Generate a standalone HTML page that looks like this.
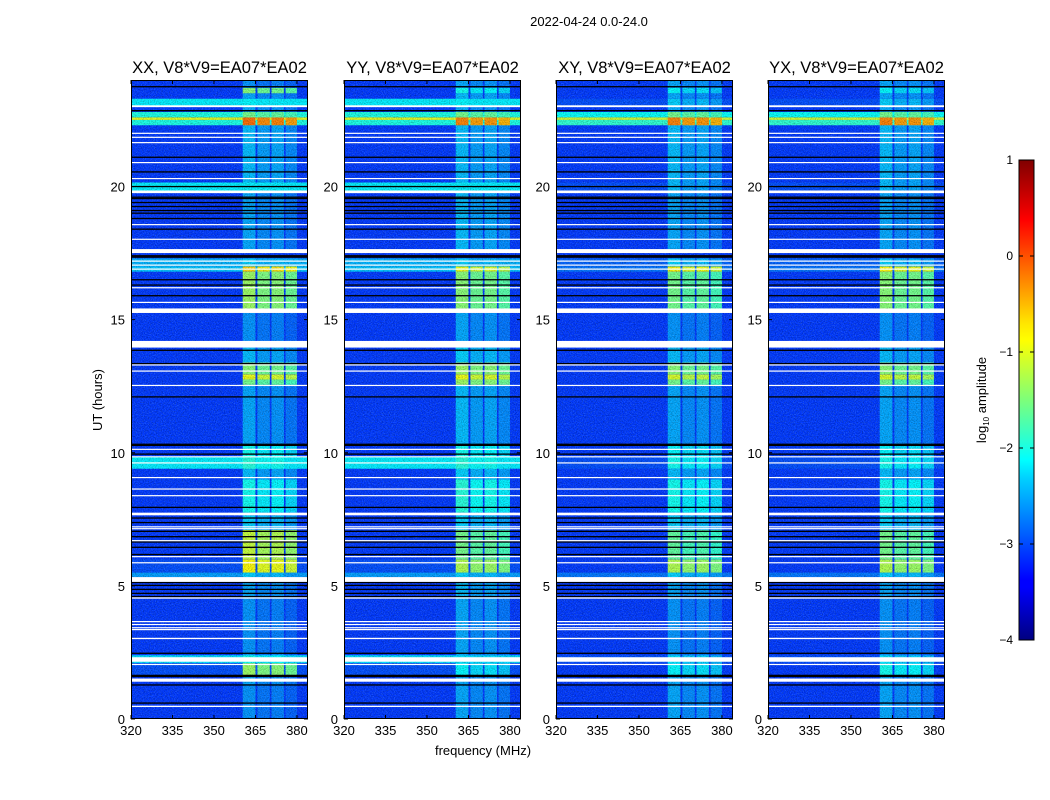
<!DOCTYPE html>
<html><head><meta charset="utf-8"><style>
body{margin:0;background:#fff;}
svg{display:block;font-family:"Liberation Sans","DejaVu Sans",sans-serif;}
</style></head><body>
<svg id="fig" width="1050" height="800" viewBox="0 0 1050 800" xmlns="http://www.w3.org/2000/svg">
<defs>
<filter id="noise" x="0" y="0" width="100%" height="100%">
<feTurbulence type="fractalNoise" baseFrequency="0.85" numOctaves="1" seed="7"/>
<feColorMatrix type="matrix" values="0 0 0 0 0  0 0 0 0 0  0 0 0 0 0  2.2 0 0 0 -0.9"/>
</filter>
<filter id="noise2" x="0" y="0" width="100%" height="100%">
<feTurbulence type="fractalNoise" baseFrequency="0.9" numOctaves="1" seed="21"/>
<feColorMatrix type="matrix" values="0 0 0 0 0.3  0 0 0 0 0.7  0 0 0 0 1  2.4 0 0 0 -1.1"/>
</filter>
<linearGradient id="jet" x1="0" y1="1" x2="0" y2="0">
<stop offset="0" stop-color="#000080"/><stop offset="0.11" stop-color="#0000ff"/>
<stop offset="0.125" stop-color="#0000ff"/><stop offset="0.34" stop-color="#00d4ff"/>
<stop offset="0.375" stop-color="#00ffff"/><stop offset="0.5" stop-color="#7dff7a"/>
<stop offset="0.625" stop-color="#ffff00"/><stop offset="0.66" stop-color="#ffe600"/>
<stop offset="0.875" stop-color="#ff0000"/><stop offset="1" stop-color="#800000"/>
</linearGradient>
</defs>
<text x="589" y="26" font-size="13" text-anchor="middle">2022-04-24 0.0-24.0</text>
<text x="102" y="400" font-size="13" text-anchor="middle" transform="rotate(-90 102 400)">UT (hours)</text>
<text x="483" y="755" font-size="13" text-anchor="middle">frequency (MHz)</text>
<g id="panels"></g>
<g>
<rect x="1019" y="160" width="15" height="480" fill="url(#jet)" stroke="#000" stroke-width="1"/>
<g id="cbticks"></g>
<text x="986" y="400" font-size="13" text-anchor="middle" transform="rotate(-90 986 400)">log<tspan font-size="8" dy="3">10</tspan><tspan dy="-3"> amplitude</tspan></text>
</g>
</svg>
<script>
// ---- data ----
const panelTitles = ["XX, V8*V9=EA07*EA02","YY, V8*V9=EA07*EA02","XY, V8*V9=EA07*EA02","YX, V8*V9=EA07*EA02"];
const xTicks = [320,335,350,365,380];
const yTicks = [0,5,10,15,20];
const cbTicks = [1,0,-1,-2,-3,-4];
const segStart = [0,1.3,1.65,2.1,2.4,4.55,5.33,5.5,6.0,7.1,7.75,9.0,9.4,9.85,10.3,12.55,12.75,12.95,13.4,14.2,15.4,16.8,17.0,17.65,19.85,20.15,22.3,22.5,22.6,22.8,23.0,23.3,23.5,23.7];
const segEnd   = [1.3,1.65,2.1,2.4,4.55,5.15,5.5,6.0,7.1,7.65,9.0,9.4,9.85,10.3,12.55,12.75,12.95,13.4,13.95,15.25,16.8,17.0,17.3,19.85,20.15,22.3,22.5,22.6,22.8,23.0,23.3,23.5,23.7,24];
const bgXX  = [-3.1,-3.1,-3.0,-2.3,-3.1,-3.1,-2.6,-3.0,-3.1,-3.1,-3.1,-3.1,-2.2,-3.1,-3.1,-3.1,-3.1,-3.1,-3.1,-3.1,-3.1,-2.4,-2.5,-3.1,-2.2,-3.1,-2.0,-1.0,-2.0,-3.1,-2.2,-3.1,-3.1,-3.1];
const rfiXX = [-2.8,-2.7,-1.5,-2.2,-2.8,-2.7,-2.5,-1.0,-1.3,-2.5,-2.2,-2.6,-2.1,-2.2,-2.7,-1.7,-1.1,-1.6,-2.6,-2.8,-1.5,-0.8,-2.5,-2.7,-2.5,-2.6,-0.3,-0.3,-1.7,-2.7,-2.3,-2.7,-1.6,-2.8];
const bgYY  = [-3.1,-3.1,-3.0,-2.3,-3.1,-3.1,-2.6,-3.0,-3.1,-3.1,-3.1,-3.1,-2.2,-3.1,-3.1,-3.1,-3.1,-3.1,-3.1,-3.1,-3.1,-2.4,-2.5,-3.1,-2.2,-3.1,-2.0,-1.0,-2.0,-3.1,-2.2,-3.1,-3.1,-3.1];
const rfiYY = [-2.7,-2.7,-2.3,-2.4,-2.7,-2.6,-2.5,-1.4,-1.7,-2.5,-2.1,-2.5,-2.1,-2.2,-2.6,-1.5,-1.1,-1.5,-2.5,-2.7,-1.6,-1.1,-2.5,-2.6,-2.5,-2.6,-0.4,-0.4,-1.7,-2.7,-2.3,-2.6,-2.2,-2.7];
const bgXY  = [-3.1,-3.1,-3.1,-3.0,-3.1,-3.1,-2.8,-3.1,-3.1,-3.1,-3.1,-3.1,-3.0,-3.1,-3.1,-3.1,-3.1,-3.1,-3.1,-3.1,-3.1,-2.8,-2.9,-3.1,-3.0,-3.1,-1.9,-1.1,-2.1,-3.1,-3.0,-3.1,-3.1,-3.1];
const rfiXY = [-2.7,-2.7,-2.3,-2.4,-2.8,-2.7,-2.5,-1.4,-1.8,-2.5,-2.2,-2.6,-2.2,-2.3,-2.7,-1.7,-1.2,-1.6,-2.6,-2.8,-1.7,-1.0,-2.5,-2.7,-2.6,-2.6,-0.4,-0.4,-1.7,-2.7,-2.5,-2.7,-2.3,-2.7];
const bgYX  = [-3.1,-3.1,-3.1,-3.0,-3.1,-3.1,-2.8,-3.1,-3.1,-3.1,-3.1,-3.1,-3.0,-3.1,-3.1,-3.1,-3.1,-3.1,-3.1,-3.1,-3.1,-2.8,-2.9,-3.1,-3.0,-3.1,-1.9,-1.1,-2.1,-3.1,-3.0,-3.1,-3.1,-3.1];
const rfiYX = [-2.7,-2.7,-2.2,-2.4,-2.8,-2.7,-2.5,-1.4,-1.7,-2.5,-2.2,-2.6,-2.2,-2.3,-2.7,-1.7,-1.2,-1.6,-2.6,-2.8,-1.6,-1.0,-2.5,-2.7,-2.6,-2.6,-0.4,-0.4,-1.7,-2.7,-2.5,-2.7,-2.3,-2.7];
const subLo = [360.4,365.7,370.8,375.9];
const subHi = [365.0,370.2,375.3,380.0];
const subOffset = [0.15,0,0.05,-0.1];
const whiteStart = [0.45,1.4,2.03,2.15,3.0,3.34,3.41,3.53,3.64,4.52,5.15,5.85,6.08,6.68,7.13,7.2,7.65,8.37,8.62,9.05,9.6,9.83,10.11,12.51,13.05,13.28,13.95,15.25,15.63,16.18,16.88,17.03,17.18,17.5,18.0,18.55,19.75,20.28,20.88,21.63,21.83,21.98,22.98];
const whiteEnd   = [0.5,1.52,2.07,2.32,3.05,3.38,3.45,3.57,3.68,4.57,5.33,5.89,6.12,6.72,7.17,7.24,7.75,8.41,8.66,9.09,9.64,9.87,10.15,12.55,13.09,13.32,14.2,15.42,15.67,16.22,16.92,17.07,17.22,17.65,18.04,18.59,19.85,20.32,20.92,21.67,21.87,22.02,23.05];
const blackLines = [0.6,1.28,1.6,1.64,2.47,4.6,4.72,4.87,5.02,5.13,6.18,6.45,6.65,6.85,7.05,7.38,7.55,7.95,9.95,10.28,10.32,12.1,13.35,13.85,15.9,16.3,16.5,17.35,17.4,18.4,18.8,19.0,19.1,19.25,19.4,19.55,19.6,20.0,20.55,21.1,22.85,23.75];
// ---- layout ----
const panelX = [131,344,556,768], PW = 177, Y0 = 80, Y1 = 719;
const bgs = [bgXX,bgYY,bgXY,bgYX], rfis = [rfiXX,rfiYY,rfiXY,rfiYX];
const NS = "http://www.w3.org/2000/svg";
function jet(v){
  let t=(v+4)/5; t=Math.max(0,Math.min(1,t));
  const c=x=>Math.round(255*Math.max(0,Math.min(1,x)));
  return `rgb(${c(1.5-Math.abs(4*t-3))},${c(1.5-Math.abs(4*t-2))},${c(1.5-Math.abs(4*t-1))})`;
}
function mk(tag,attrs,parent){const e=document.createElementNS(NS,tag);for(const k in attrs)e.setAttribute(k,attrs[k]);parent.appendChild(e);return e;}
const yS = h => Y1 - h*(Y1-Y0)/24;
const root = document.getElementById('panels');
panelX.forEach((x0,p)=>{
  const xS = f => x0 + (f-320)*PW/64;
  const g = mk('g',{},root);
  
  
  mk('rect',{x:x0,y:Y0,width:PW,height:Y1-Y0,fill:jet(-3.1)},g);
  const hm = mk('g',{},g);
  
  
  segStart.forEach((s,i)=>{
    const ya=yS(segEnd[i]), yb=yS(s);
    const r=mk('rect',{x:x0,y:ya,width:PW,height:yb-ya,fill:jet(bgs[p][i])},hm);
    
    
    subLo.forEach((lo,k)=>{
      const v=Math.max(bgs[p][i],rfis[p][i]+subOffset[k]);
      const c=mk('rect',{x:xS(lo),y:ya,width:xS(subHi[k])-xS(lo),height:yb-ya,fill:jet(v)},hm);
      
      
    });
  });
  mk('rect',{x:x0,y:Y0,width:PW,height:Y1-Y0,fill:'#000',filter:'url(#noise)',opacity:0.35},g);
  mk('rect',{x:x0,y:Y0,width:PW,height:Y1-Y0,fill:'#000',filter:'url(#noise2)',opacity:0.3},g);
  blackLines.forEach(h=>{
    const b=mk('rect',{x:x0,y:yS(h)-0.6,width:PW,height:1.3,fill:'#000'},g);
    
    
  });
  whiteStart.forEach((s,i)=>{
    const ya=yS(whiteEnd[i]), yb=yS(s);
    const w=mk('rect',{x:x0,y:ya,width:PW,height:Math.max(1.2,yb-ya),fill:'#fff'},g);
    
    
  });
  mk('rect',{x:x0+0.5,y:Y0+0.5,width:PW-1,height:Y1-Y0-1,fill:'none',stroke:'#000','stroke-width':1},g);
  xTicks.forEach(t=>{
    const x=xS(t);
    mk('line',{x1:x,x2:x,y1:Y1,y2:Y1-4,stroke:'#000'},g);
    mk('line',{x1:x,x2:x,y1:Y0,y2:Y0+4,stroke:'#000'},g);
    const tx=mk('text',{x:x,y:Y1+16,'font-size':13,'text-anchor':'middle'},g);
    tx.textContent=t;
    
    
  });
  yTicks.forEach(t=>{
    const y=yS(t);
    mk('line',{x1:x0,x2:x0+4,y1:y,y2:y,stroke:'#000'},g);
    mk('line',{x1:x0+PW,x2:x0+PW-4,y1:y,y2:y,stroke:'#000'},g);
    const tx=mk('text',{x:x0-6,y:y+5,'font-size':13,'text-anchor':'end'},g);
    tx.textContent=t;
    
    
  });
  const tt=mk('text',{x:x0+PW/2,y:Y0-7,'font-size':16.5,'text-anchor':'middle'},g);
  tt.textContent=panelTitles[p];
  
  
});
const cb=document.getElementById('cbticks');
cbTicks.forEach(v=>{
  const y=160+(1-v)*96;
  mk('line',{x1:1019,x2:1023,y1:y,y2:y,stroke:'#000'},cb);
  mk('line',{x1:1034,x2:1030,y1:y,y2:y,stroke:'#000'},cb);
  const tx=mk('text',{x:1013,y:y+4,'font-size':12,'text-anchor':'end'},cb);
  tx.textContent=v<0?'\u2212'+(-v):v;
  
  
});
</script>
</body></html>
